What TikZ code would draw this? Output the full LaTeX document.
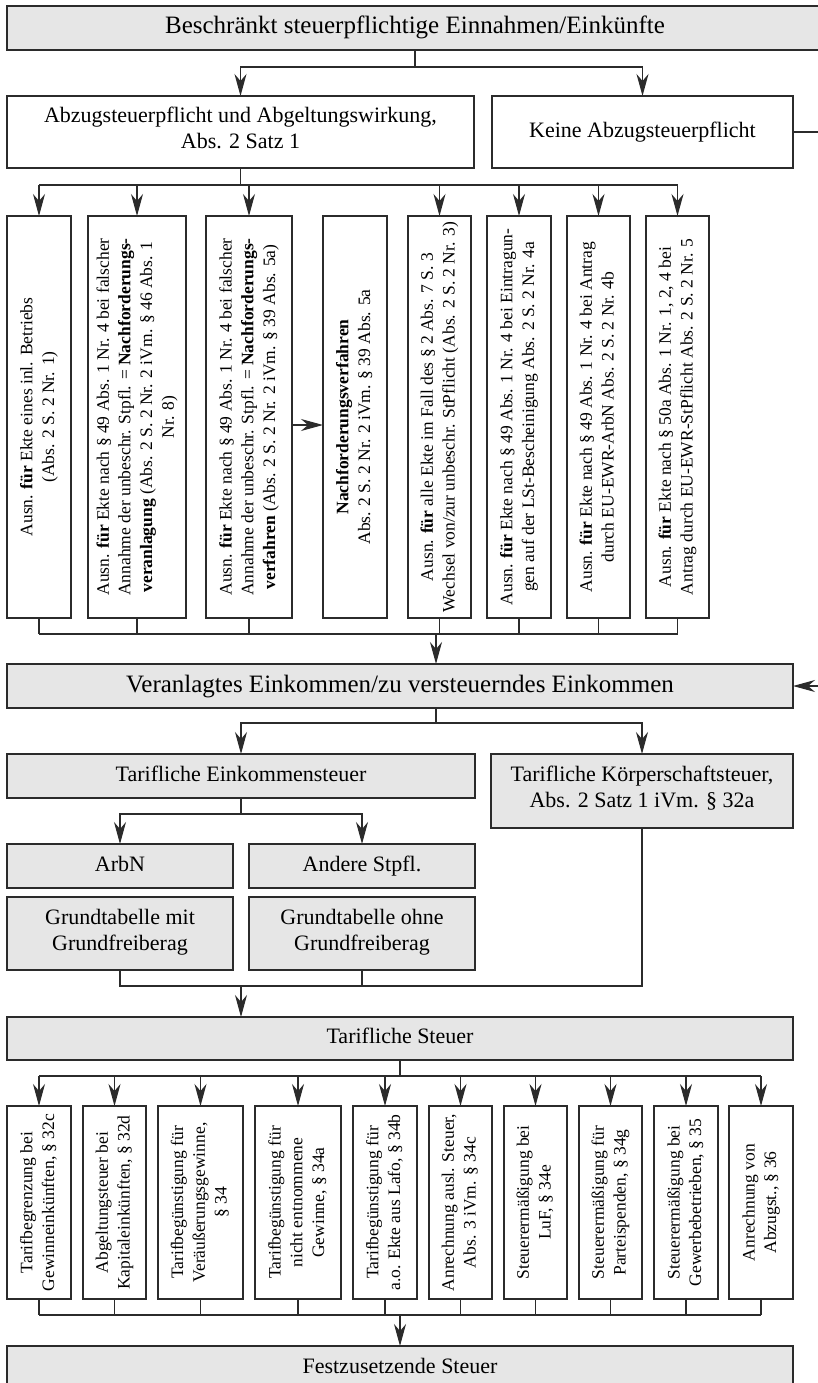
\documentclass[tikz,border=0pt]{standalone}
\usepackage{fontspec}
\usepackage{graphicx}
\setmainfont{Liberation Serif}
\usetikzlibrary{arrows.meta,calc}
\definecolor{boxfill}{HTML}{E6E6E6}
\definecolor{linec}{HTML}{2B2B2B}
\newcommand\vtext[1]{\rotatebox{90}{\begin{tabular}{@{}c@{}}#1\end{tabular}}}
\begin{document}
\begin{tikzpicture}[x=1pt,y=-1pt,
 bx/.style={draw=linec, line width=1.3pt, inner sep=0pt, outer sep=0pt, align=center, font=\fontsize{22}{26}\selectfont},
 txt/.style={execute at begin node=\strut, execute at end node=\strut},
 gbox/.style={bx, txt, fill=boxfill},
 wbox/.style={bx, txt, fill=white},
 vbox/.style={bx, fill=white, font=\fontsize{17.5}{21.7}\selectfont},
 bigtxt/.style={font=\fontsize{25}{30}\selectfont},
 con/.style={draw=linec, line width=1.1pt},
 arr/.style={con, -{Stealth[length=22pt,width=12pt,inset=7pt]}},
]
\useasboundingbox (0,0) rectangle (818,1383);
\fill[white] (0,0) rectangle (818,1383);
\clip (0,0) rectangle (818,1383);

% top level
\node[gbox, bigtxt, minimum width=816pt, minimum height=44pt] (top) at (415,28) {Beschränkt steuerpflichtige Einnahmen/Einkünfte};
\node[wbox, minimum width=467pt, minimum height=72pt] (abz) at (240.5,132) {Abzugsteuerpflicht und Abgeltungswirkung,\\Abs. 2 Satz 1};
\node[wbox, minimum width=301pt, minimum height=72pt] (keine) at (642.5,132) {Keine Abzugsteuerpflicht};

% first row of vertical boxes
\node[vbox, minimum width=64pt, minimum height=402pt] (b1) at (39,417) {\vtext{Ausn. \textbf{für} Ekte eines inl. Betriebs\\(Abs. 2 S. 2 Nr. 1)}};
\node[vbox, minimum width=98pt, minimum height=402pt] (b2) at (137,417) {\vtext{Ausn. \textbf{für} Ekte nach § 49 Abs. 1 Nr. 4 bei falscher\\Annahme der unbeschr. Stpfl. = \textbf{Nachforderungs-}\\\textbf{veranlagung} (Abs. 2 S. 2 Nr. 2 iVm. § 46 Abs. 1\\Nr. 8)}};
\node[vbox, minimum width=86pt, minimum height=402pt] (b3) at (249,417) {\vtext{Ausn. \textbf{für} Ekte nach § 49 Abs. 1 Nr. 4 bei falscher\\Annahme der unbeschr. Stpfl. = \textbf{Nachforderungs-}\\\textbf{verfahren} (Abs. 2 S. 2 Nr. 2 iVm. § 39 Abs. 5a)}};
\node[vbox, minimum width=64pt, minimum height=402pt] (b4) at (355,417) {\vtext{\textbf{Nachforderungsverfahren}\\Abs. 2 S. 2 Nr. 2 iVm. § 39 Abs. 5a}};
\node[vbox, minimum width=63pt, minimum height=402pt] (b5) at (439.5,417) {\vtext{Ausn. \textbf{für} alle Ekte im Fall des § 2 Abs. 7 S. 3\\Wechsel von/zur unbeschr. StPflicht (Abs. 2 S. 2 Nr. 3)}};
\node[vbox, minimum width=64pt, minimum height=402pt] (b6) at (519,417) {\vtext{Ausn. \textbf{für} Ekte nach § 49 Abs. 1 Nr. 4 bei Eintragun-\\gen auf der LSt-Bescheinigung Abs. 2 S. 2 Nr. 4a}};
\node[vbox, minimum width=63pt, minimum height=402pt] (b7) at (598.5,417) {\vtext{Ausn. \textbf{für} Ekte nach § 49 Abs. 1 Nr. 4 bei Antrag\\durch EU-EWR-ArbN Abs. 2 S. 2 Nr. 4b}};
\node[vbox, minimum width=63pt, minimum height=402pt] (b8) at (677.5,417) {\vtext{Ausn. \textbf{für} Ekte nach § 50a Abs. 1 Nr. 1, 2, 4 bei\\Antrag durch EU-EWR-StPflicht Abs. 2 S. 2 Nr. 5}};

% middle
\node[gbox, bigtxt, minimum width=786pt, minimum height=44pt] (ver) at (400,686) {Veranlagtes Einkommen/zu versteuerndes Einkommen};
\node[gbox, minimum width=468pt, minimum height=44pt] (est) at (241,776) {Tarifliche Einkommensteuer};
\node[gbox, minimum width=302pt, minimum height=74pt] (kst) at (642,791) {Tarifliche Körperschaftsteuer,\\Abs. 2 Satz 1 iVm. § 32a};
\node[gbox, minimum width=226pt, minimum height=44pt] (arbn) at (120,866) {ArbN};
\node[gbox, minimum width=226pt, minimum height=44pt] (andere) at (362,866) {Andere Stpfl.};
\node[gbox, minimum width=226pt, minimum height=73pt] (gmm) at (120,933.5) {Grundtabelle mit\\Grundfreiberag};
\node[gbox, minimum width=226pt, minimum height=73pt] (gom) at (362,933.5) {Grundtabelle ohne\\Grundfreiberag};
\node[gbox, minimum width=786pt, minimum height=43pt] (ts) at (400,1038.5) {Tarifliche Steuer};

% second row of vertical boxes
\node[vbox, minimum width=64pt, minimum height=193pt] (cA) at (39,1202.5) {\vtext{Tarifbegrenzung bei\\Gewinneinkünften, § 32c}};
\node[vbox, minimum width=63pt, minimum height=193pt] (cB) at (114.5,1202.5) {\vtext{Abgeltungsteuer bei\\Kapitaleinkünften, § 32d}};
\node[vbox, minimum width=85pt, minimum height=193pt] (cC) at (200.5,1202.5) {\vtext{Tarifbegünstigung für\\Veräußerungsgewinne,\\§ 34}};
\node[vbox, minimum width=86pt, minimum height=193pt] (cD) at (298,1202.5) {\vtext{Tarifbegünstigung für\\nicht entnommene\\Gewinne, § 34a}};
\node[vbox, minimum width=64pt, minimum height=193pt] (cE) at (385,1202.5) {\vtext{Tarifbegünstigung für\\a.o. Ekte aus Lafo, § 34b}};
\node[vbox, minimum width=63pt, minimum height=193pt] (cF) at (460.5,1202.5) {\vtext{Anrechnung ausl. Steuer,\\Abs. 3 iVm. § 34c}};
\node[vbox, minimum width=63pt, minimum height=193pt] (cG) at (535.5,1202.5) {\vtext{Steuerermäßigung bei\\LuF, § 34e}};
\node[vbox, minimum width=63pt, minimum height=193pt] (cH) at (610.5,1202.5) {\vtext{Steuerermäßigung für\\Parteispenden, § 34g}};
\node[vbox, minimum width=64pt, minimum height=193pt] (cI) at (686,1202.5) {\vtext{Steuerermäßigung bei\\Gewerbebetrieben, § 35}};
\node[vbox, minimum width=64pt, minimum height=193pt] (cJ) at (761,1202.5) {\vtext{Anrechnung von\\Abzugst., § 36}};

\node[gbox, minimum width=786pt, minimum height=44pt] (fest) at (400,1368) {Festzusetzende Steuer};

% connectors
\coordinate (j1) at (415,67);
\draw[con] (top.south) -- (j1);
\draw[arr] (j1) -| (abz.north);
\draw[arr] (j1) -| (keine.north);

\coordinate (r1) at (840,132);
\coordinate (r2) at (840,686);
\draw[arr] (keine.east) -- (r1) -- (r2) -- (ver.east);

\coordinate (j2) at (240.5,185);
\draw[con] (abz.south) -- (j2);
\draw[con] (b1.north |- j2) -- (b8.north |- j2);
\foreach \b in {b1,b2,b3,b5,b6,b7,b8} \draw[arr] (\b.north |- j2) -- (\b.north);

\coordinate (h34) at (0,425);
\draw[arr] (b3.east |- h34) -- (b4.west |- h34);

\coordinate (j3) at (436,634);
\foreach \b in {b1,b2,b3,b5,b6,b7,b8} \draw[con] (\b.south) -- (\b.south |- j3);
\draw[con] (b1.south |- j3) -- (b8.south |- j3);
\draw[arr] (j3) -- (j3 |- ver.north);

\coordinate (j4) at (436,723);
\draw[con] (j4 |- ver.south) -- (j4);
\draw[arr] (j4) -| (est.north);
\draw[arr] (j4) -| (kst.north);

\coordinate (j5) at (241,814);
\draw[con] (est.south) -- (j5);
\draw[arr] (j5) -| (arbn.north);
\draw[arr] (j5) -| (andere.north);

\coordinate (j6) at (241,986);
\draw[con] (gmm.south) -- (gmm.south |- j6) -- (kst.south |- j6) -- (kst.south);
\draw[con] (gom.south) -- (gom.south |- j6);
\draw[arr] (j6) -- (j6 |- ts.north);

\coordinate (j7) at (400,1076);
\draw[con] (ts.south) -- (j7);
\draw[con] (cA.north |- j7) -- (cJ.north |- j7);
\foreach \c in {cA,cB,cC,cD,cE,cF,cG,cH,cI,cJ} \draw[arr] (\c.north |- j7) -- (\c.north);

\coordinate (j8) at (400,1315);
\foreach \c in {cA,cB,cC,cD,cE,cF,cG,cH,cI,cJ} \draw[con] (\c.south) -- (\c.south |- j8);
\draw[con] (cA.south |- j8) -- (cJ.south |- j8);
\draw[arr] (j8) -- (fest.north);
\end{tikzpicture}
\end{document}
